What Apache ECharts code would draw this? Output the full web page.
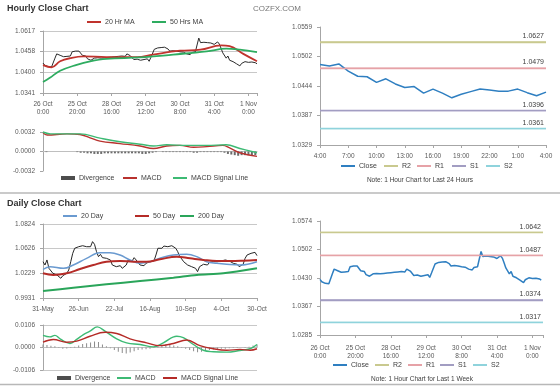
<!DOCTYPE html>
<html><head><meta charset="utf-8">
<script src="https://cdn.jsdelivr.net/npm/echarts@6/dist/echarts.min.js"></script>
<style>html,body{margin:0;padding:0;background:#fff}#c{width:560px;height:386px}</style>
</head><body><div id="c"></div>
<script>
// ---------- Hourly (last week) ----------
const weekXLabels = ['26 Oct\n0:00','25 Oct\n20:00','28 Oct\n16:00','29 Oct\n12:00','30 Oct\n8:00','31 Oct\n4:00','1 Nov\n0:00'];
const hourlyClose = [
 1.0426,1.0420,1.0418,1.0416,1.0419,1.0415,1.0418,1.0440,1.0452,1.0455,
 1.0448,1.0452,1.0444,1.0447,1.0445,1.0449,1.0446,1.0458,1.0454,1.0460,
 1.0456,1.0460,1.0457,1.0448,1.0444,1.0446,1.0438,1.0436,1.0434,1.0437,
 1.0440,1.0436,1.0441,1.0443,1.0440,1.0442,1.0441,1.0444,1.0442,1.0445,
 1.0443,1.0446,1.0444,1.0443,1.0445,1.0444,1.0446,1.0444,1.0445,1.0452,
 1.0456,1.0447,1.0444,1.0436,1.0433,1.0437,1.0432,1.0434,1.0430,1.0436,
 1.0433,1.0438,1.0431,1.0442,1.0444,1.0465,1.0468,1.0469,1.0467,1.0470,
 1.0468,1.0471,1.0469,1.0466,1.0460,1.0458,1.0461,1.0459,1.0460,1.0456,
 1.0458,1.0455,1.0457,1.0454,1.0452,1.0454,1.0450,1.0456,1.0453,1.0458,
 1.0455,1.0497,1.0484,1.0481,1.0485,1.0482,1.0484,1.0480,1.0483,1.0481,
 1.0479,1.0484,1.0486,1.0480,1.0468,1.0455,1.0450,1.0440,1.0446,1.0434,
 1.0438,1.0430,1.0427,1.0424,1.0428,1.0418,1.0425,1.0422,1.0430,1.0432,
 1.0428,1.0431,1.0429,1.0425,1.0427,1.0424];
const ma20Hours = [0,5,10,16,23.6,37,55,64,80,92,104,109,117,125];
const ma20Values = [1.0420,1.0414,1.0431,1.0440,1.0445,1.0443,1.0443,1.0450,1.0461,1.0464,1.0476,1.0474,1.0452,1.0431];
const ma50Hours = [0,4,10,19.7,27.5,37,56.7,76,95.6,107,115,125];
const ma50Values = [1.0372,1.0384,1.0404,1.0421,1.0431,1.0438,1.0442,1.0450,1.0459,1.0467,1.0464,1.0457];
const hourlyPriceTicks = ['1.0341','1.0400','1.0458','1.0617'];

const hMacdHours = [0,2.4,14,21.6,27.5,33.3,45,56.7,64.5,72.3,80,88,95.6,105,109,115,125];
const hMacdValues = [0.0031,0.0027,0.0029,0.0028,0.00225,0.0017,0.0013,0.0009,0.0005,0.0009,0.0010,0.0007,0.0008,0.0010,0.0006,-0.0002,-0.0008];
const hSignalHours = [0,4.3,21.6,33.3,45,56.7,64.5,72.3,84,95.6,107,115,125];
const hSignalValues = [0.0032,0.0029,0.0029,0.0022,0.0016,0.0012,0.0009,0.0011,0.0010,0.0010,0.0011,0.0005,-0.0002];
const hDivHours = [0,2,4,6,8,10,12,14,16,18,20,22,24,26,28,30,32,34,36,38,40,42,44,46,48,50,52,54,56,58,60,62,64,66,68,70,72,74,76,78,80,82,84,86,88,90,92,94,96,98,100,102,104,106,108,110,112,114,116,118,120,122,124];
const hDivValues = [0,-0.0001,0,0,0,0,0,0,0,0,-0.0001,-0.0002,-0.0002,-0.0003,-0.0003,-0.0004,-0.0004,-0.0004,-0.0003,-0.0003,-0.0003,-0.0003,-0.0003,-0.0003,-0.0003,-0.0003,-0.0003,-0.0003,-0.0003,-0.0004,-0.0004,-0.0003,-0.0002,-0.0001,0,-0.0001,-0.0001,-0.0001,-0.0001,-0.0001,-0.0001,-0.0001,-0.0001,-0.0001,-0.0002,-0.0002,-0.0001,-0.0001,-0.0001,-0.0001,-0.0001,-0.0001,-0.0001,-0.0002,-0.0004,-0.0005,-0.0006,-0.0007,-0.0006,-0.0006,-0.0006,-0.0006,-0.0006];
const hourlyMacdTicks = ['-0.0032','0.0000','0.0032'];

// ---------- Last 24 hours ----------
const day24Labels = ['4:00','7:00','10:00','13:00','16:00','19:00','22:00','1:00','4:00'];
const close24 = [1.0486,1.0483,1.0487,1.0473,1.0463,1.0462,1.0451,1.0458,1.0448,1.0441,1.0443,1.0430,1.0438,1.0430,1.0421,1.0428,1.0433,1.0438,1.0436,1.0434,1.0434,1.0438,1.0431,1.0425,1.0432];
const pivot24Ticks = ['1.0329','1.0387','1.0444','1.0502','1.0559'];
const levelNames = ['R2','R1','S1','S2'];
const levels24 = [1.0530,1.0479,1.0396,1.0361];
const levels24Labels = ['1.0627','1.0479','1.0396','1.0361'];

// ---------- Daily ----------
const dailyXLabels = ['31-May','26-Jun','22-Jul','16-Aug','10-Sep','4-Oct','30-Oct'];
const dailyClose = [
 1.0369,1.0329,1.0390,1.0289,1.0269,1.0229,1.0249,1.0209,1.0217,1.0169,
 1.0200,1.0188,1.0229,1.0269,1.0369,1.0470,1.0531,1.0510,1.0550,1.0531,
 1.0562,1.0538,1.0550,1.0571,1.0550,1.0611,1.0579,1.0490,1.0430,1.0458,
 1.0418,1.0442,1.0410,1.0430,1.0390,1.0329,1.0338,1.0309,1.0297,1.0321,
 1.0289,1.0309,1.0329,1.0390,1.0410,1.0378,1.0418,1.0390,1.0369,1.0329,
 1.0350,1.0321,1.0350,1.0338,1.0369,1.0361,1.0378,1.0450,1.0531,1.0550,
 1.0531,1.0558,1.0538,1.0550,1.0531,1.0562,1.0550,1.0531,1.0490,1.0430,
 1.0402,1.0369,1.0350,1.0329,1.0350,1.0309,1.0329,1.0289,1.0249,1.0309,
 1.0329,1.0338,1.0350,1.0329,1.0361,1.0338,1.0369,1.0350,1.0369,1.0350,
 1.0378,1.0361,1.0390,1.0410,1.0378,1.0390,1.0350,1.0329,1.0338,1.0309,
 1.0329,1.0338,1.0410,1.0450,1.0458,1.0470,1.0490,1.0482,1.0442];
const ma20dDays = [0,3.5,10.3,15.3,22,28.8,33.8,38.9,43.9,49,54,59,65.8,72.5,77.6,82.6,87.7,92.7,99.4,108];
const ma20dValues = [1.0275,1.0309,1.0289,1.0329,1.0410,1.0478,1.0478,1.0450,1.0390,1.0350,1.0369,1.0410,1.0450,1.0458,1.0430,1.0369,1.0350,1.0338,1.0329,1.0369];
const ma50dDays = [0,5.2,12,18.7,25.4,32,39,45.6,52.3,59,67.5,74.2,81,87.7,94.4,101,108];
const ma50dValues = [1.0229,1.0209,1.0229,1.0281,1.0329,1.0369,1.0378,1.0369,1.0369,1.0398,1.0430,1.0410,1.0390,1.0378,1.0378,1.0382,1.0390];
const ma200dDays = [0,15.3,32,49,65.8,77.6,91,108];
const ma200dValues = [1.0015,1.0055,1.0096,1.0136,1.0176,1.0209,1.0229,1.0289];
const dailyPriceTicks = ['0.9931','1.0229','1.0626','1.0824'];

const dMacdDays = [0,3.5,6,8.6,13.6,17,20.4,23.7,27.4,31.3,37.2,42.2,49,55.7,60.7,67.5,70.8,75.9,80.9,86,92.7,99.4,104.5,108];
const dMacdValues = [0.0057,0.0050,0.0057,0.0041,0.0019,0.0038,0.0061,0.0077,0.0097,0.0077,0.0041,0.0022,0.0014,0.0003,0.0022,0.0053,0.0046,0.0014,-0.0013,-0.0020,-0.0022,-0.0014,-0.0006,0.0014];
const dSignalDays = [0,5.2,12,17,23.7,31.3,37.2,43.9,52.3,59,65.8,72.5,79.2,86,92.7,99.4,104.5,108];
const dSignalValues = [0.0025,0.0038,0.0025,0.0030,0.0053,0.0072,0.0066,0.0041,0.0022,0.0009,0.0019,0.0035,0.0009,-0.0006,-0.0013,-0.0009,-0.0013,-0.0006];
const dDivDays = [0,2,4,6,8,10,12,14,16,18,20,22,24,26,28,30,32,34,36,38,40,42,44,46,48,50,52,54,56,58,60,62,64,66,68,70,72,74,76,78,80,82,84,86,88,90,92,94,96,98,100,102,104,106,108];
const dDivValues = [0.0014,0.0012,0.0008,0.0006,-0.0002,-0.0006,-0.0005,-0.0002,0.0004,0.0010,0.0016,0.0020,0.0024,0.0028,0.0026,0.0014,0.0006,-0.0004,-0.0012,-0.0020,-0.0026,-0.0028,-0.0024,-0.0018,-0.0012,-0.0010,-0.0008,-0.0006,0.0002,0.0008,0.0012,0.0014,0.0012,0.0010,0.0006,0.0002,-0.0006,-0.0012,-0.0018,-0.0022,-0.0020,-0.0016,-0.0012,-0.0010,-0.0008,-0.0006,-0.0006,-0.0004,-0.0002,-0.0002,0,0.0002,0.0004,0.0010,0.0014];
const dailyMacdTicks = ['-0.0106','0.0000','0.0106'];

// ---------- Last week pivots ----------
const weekPivotTicks = ['1.0285','1.0367','1.0430','1.0502','1.0574'];
const levelsWeek = [1.0545,1.0487,1.0374,1.0317];
const levelsWeekLabels = ['1.0642','1.0487','1.0374','1.0317'];

// ================= build =================
const FONT = '"Liberation Sans", Arial, sans-serif';
const AX = '#a6a6a6', LBL = '#595959';
const levelColors = ['#c9c98f','#e6a2a7','#a29dc2','#8fd3dc'];
const pairs = (xs, ys) => xs.map((x, i) => [x, ys[i]]);
const idx = vs => vs.map((v, i) => [i, v]);

function yAx(gi, min, max, n, labels, split, splitColors) {
  const interval = (max - min) / n;
  return {
    type: 'value', gridIndex: gi, min, max, interval, scale: true,
    axisLine: {show: true, lineStyle: {color: AX}},
    axisTick: {show: true, length: 3, lineStyle: {color: AX}},
    axisLabel: {fontSize: 6.5, color: LBL, fontFamily: FONT, margin: 8,
      formatter: v => { const k = Math.round((v - min) / interval); return labels[k] !== undefined ? labels[k] : ''; }},
    splitLine: {show: !!split, lineStyle: {color: splitColors || '#c8c8c8', width: 1}}
  };
}
function xAx(gi, max, interval, labels, margin) {
  return {
    type: 'value', gridIndex: gi, min: 0, max, interval,
    axisLine: {show: true, onZero: false, lineStyle: {color: AX}},
    axisTick: {show: true, length: 3, lineStyle: {color: AX}},
    axisLabel: {fontSize: 6.5, color: LBL, fontFamily: FONT, margin: margin, lineHeight: 8,
      showMaxLabel: true,
      formatter: v => { const k = Math.round(v / interval); return (Math.abs(v - k * interval) < 1e-6 && labels[k] !== undefined) ? labels[k] : ''; }},
    splitLine: {show: false}
  };
}
function xZero(gi, max) {
  return {type: 'value', gridIndex: gi, min: 0, max,
    axisLine: {show: true, onZero: true, lineStyle: {color: '#bfbfbf'}},
    axisTick: {show: false}, axisLabel: {show: false}, splitLine: {show: false}};
}
function line(name, xi, data, color, width, smooth) {
  return {name, type: 'line', xAxisIndex: xi, yAxisIndex: xi, data, symbol: 'none', showSymbol: false,
    smooth: smooth || false, lineStyle: {color, width}, itemStyle: {color}, silent: true, z: 3};
}
function level(name, xi, value, label, color, xmax) {
  return {name, type: 'line', xAxisIndex: xi, yAxisIndex: xi, data: [[0, value], [xmax, value]],
    symbol: 'none', showSymbol: false, lineStyle: {color, width: 1.3}, itemStyle: {color}, silent: true, z: 2,
    markLine: {silent: true, symbol: 'none', animation: false, precision: 6, lineStyle: {color, width: 1.3, type: 'solid'},
      label: {show: true, position: 'insideEndTop', formatter: label, fontSize: 7, color: '#404040', fontFamily: FONT, distance: 2},
      data: [{yAxis: value}]}};
}
function leg(name, left, cy, color, w, h) {
  return {left, top: cy - 4.5, padding: 0, itemGap: 0, itemWidth: w || 14, itemHeight: h || 2,
    selectedMode: false, icon: 'rect',
    textStyle: {fontSize: 7, color: '#404040', fontFamily: FONT, padding: [0, 0, 0, -1]},
    data: [{name, icon: 'rect', itemStyle: {color}}]};
}

const series = [
  // panel 0: hourly price
  line('Hourly Close', 0, idx(hourlyClose), '#2b2b2b', 1),
  line('20 Hr MA', 0, pairs(ma20Hours, ma20Values), '#c0332d', 1.8, 0.4),
  line('50 Hrs MA', 0, pairs(ma50Hours, ma50Values), '#2eac60', 1.8, 0.4),
  // panel 1: hourly MACD
  {name: 'Divergence', type: 'bar', xAxisIndex: 1, yAxisIndex: 1, data: pairs(hDivHours, hDivValues), barWidth: 2, itemStyle: {color: '#6b6b6b'}, silent: true},
  line('MACD', 1, pairs(hMacdHours, hMacdValues), '#b8322e', 1.4, 0.4),
  line('MACD Signal Line', 1, pairs(hSignalHours, hSignalValues), '#3dba74', 1.4, 0.4),
  // panel 2: 24h pivots
  ...levelNames.map((n, i) => level(n, 2, levels24[i], levels24Labels[i], levelColors[i], 24)),
  line('Close', 2, idx(close24), '#2f7fc1', 1.5),
  // panel 3: daily price
  line('Daily Close', 3, idx(dailyClose), '#262626', 1),
  line('20 Day', 3, pairs(ma20dDays, ma20dValues), '#6a9ad0', 1.5, 0.4),
  line('50 Day', 3, pairs(ma50dDays, ma50dValues), '#b52b27', 2, 0.4),
  line('200 Day', 3, pairs(ma200dDays, ma200dValues), '#2aa55a', 2, 0.3),
  // panel 4: daily MACD
  {name: 'Divergence', type: 'bar', xAxisIndex: 4, yAxisIndex: 4, data: pairs(dDivDays, dDivValues), barWidth: 1, itemStyle: {color: '#8c8c8c'}, silent: true},
  line('MACD', 4, pairs(dMacdDays, dMacdValues), '#3dba74', 1.4, 0.4),
  line('MACD Signal Line', 4, pairs(dSignalDays, dSignalValues), '#b52b27', 1.4, 0.4),
  // panel 5: week pivots
  ...levelNames.map((n, i) => level(n, 5, levelsWeek[i], levelsWeekLabels[i], levelColors[i], 126)),
  line('Close', 5, idx(hourlyClose), '#2f7fc1', 1.5)
];

const option = {
  animation: false,
  backgroundColor: '#fff',
  textStyle: {fontFamily: FONT},
  grid: [
    {left: 43, top: 31, width: 214, height: 62},
    {left: 43, top: 132, width: 214, height: 39},
    {left: 320, top: 27, width: 226, height: 118},
    {left: 43, top: 224, width: 214, height: 74},
    {left: 43, top: 325, width: 214, height: 45},
    {left: 320, top: 221, width: 223, height: 114}
  ],
  xAxis: [
    xAx(0, 125, 20, weekXLabels, 7),
    xZero(1, 125),
    xAx(2, 24, 3, day24Labels, 7),
    xAx(3, 108, 18, dailyXLabels, 7),
    xZero(4, 108),
    xAx(5, 126, 20, weekXLabels, 9)
  ],
  yAxis: [
    yAx(0, 1.0341, 1.0517, 3, hourlyPriceTicks, true),
    yAx(1, -0.0032, 0.0032, 2, hourlyMacdTicks, true, ['rgba(0,0,0,0)', '#c8c8c8', 'rgba(0,0,0,0)']),
    yAx(2, 1.0329, 1.0559, 4, pivot24Ticks, false),
    yAx(3, 0.9931, 1.0824, 3, dailyPriceTicks, true),
    yAx(4, -0.0106, 0.0106, 2, dailyMacdTicks, true),
    yAx(5, 1.0285, 1.0574, 4, weekPivotTicks, false)
  ],
  legend: [
    leg('20 Hr MA', 87, 23, '#c0332d'),
    leg('50 Hrs MA', 152, 23, '#2eac60'),
    leg('Divergence', 61, 179, '#4d4d4d', 14, 4),
    leg('MACD', 123, 179, '#b8322e'),
    leg('MACD Signal Line', 173, 179, '#3dba74'),
    leg('Close', 341, 167, '#2f7fc1'),
    leg('R2', 384, 167, levelColors[0]),
    leg('R1', 417, 167, levelColors[1]),
    leg('S1', 452, 167, levelColors[2]),
    leg('S2', 486, 167, levelColors[3]),
    leg('20 Day', 63, 217, '#6a9ad0'),
    leg('50 Day', 135, 217, '#b52b27'),
    leg('200 Day', 180, 217, '#2aa55a'),
    leg('Divergence', 57, 379, '#4d4d4d', 14, 4),
    leg('MACD', 117, 379, '#3dba74'),
    leg('MACD Signal Line', 163, 379, '#b52b27'),
    leg('Close', 333, 366, '#2f7fc1'),
    leg('R2', 375, 366, levelColors[0]),
    leg('R1', 408, 366, levelColors[1]),
    leg('S1', 440, 366, levelColors[2]),
    leg('S2', 473, 366, levelColors[3])
  ],
  graphic: [
    {type: 'text', x: 7, y: 9, style: {text: 'Hourly Close Chart', fontSize: 9, fontWeight: 'bold', fontFamily: FONT, fill: '#333', verticalAlign: 'middle'}},
    {type: 'text', x: 277, y: 9, style: {text: 'COZFX.COM', fontSize: 8, fontFamily: FONT, fill: '#777', align: 'center', verticalAlign: 'middle'}},
    {type: 'text', x: 7, y: 204, style: {text: 'Daily Close Chart', fontSize: 9, fontWeight: 'bold', fontFamily: FONT, fill: '#333', verticalAlign: 'middle'}},
    {type: 'text', x: 420, y: 180, style: {text: 'Note: 1 Hour Chart for Last 24 Hours', fontSize: 6.5, fontFamily: FONT, fill: '#404040', align: 'center', verticalAlign: 'middle'}},
    {type: 'text', x: 422, y: 379, style: {text: 'Note: 1 Hour Chart for Last 1 Week', fontSize: 6.5, fontFamily: FONT, fill: '#404040', align: 'center', verticalAlign: 'middle'}},
    {type: 'line', shape: {x1: 0, y1: 193, x2: 560, y2: 193}, style: {stroke: '#b8b8b8', lineWidth: 1.5}},
    {type: 'line', shape: {x1: 0, y1: 384.5, x2: 560, y2: 384.5}, style: {stroke: '#b8b8b8', lineWidth: 1.5}}
  ],
  series
};
const chart = echarts.init(document.getElementById('c'), null, {renderer: 'canvas'});
chart.setOption(option);
</script></body></html>
